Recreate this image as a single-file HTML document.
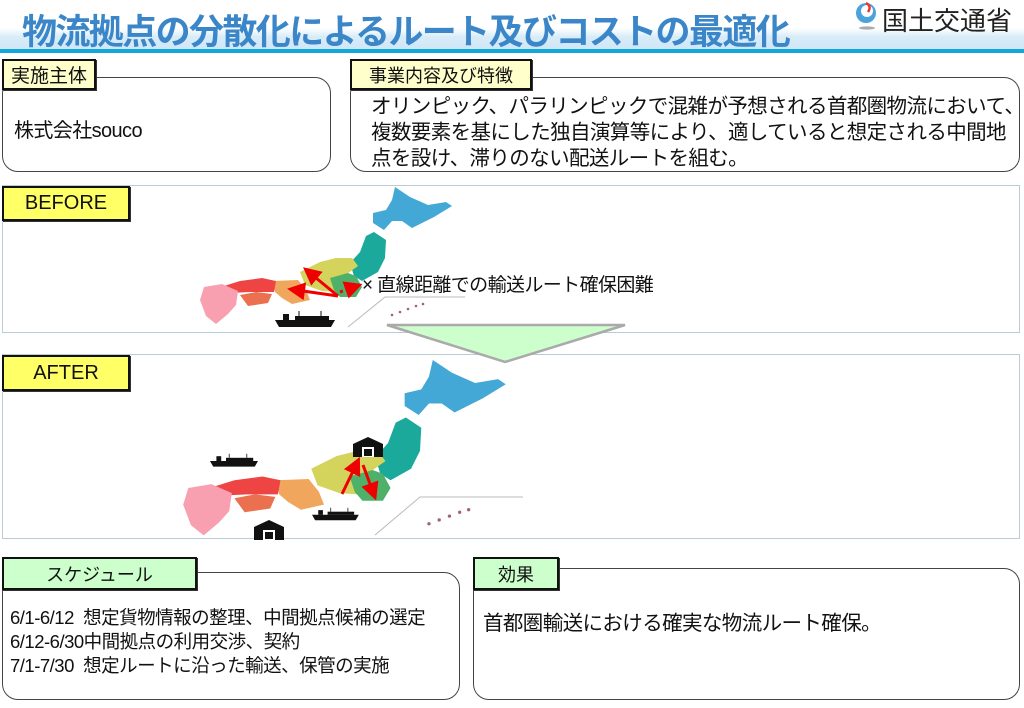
<!DOCTYPE html>
<html><head><meta charset="utf-8">
<style>
body{margin:0;width:1024px;height:708px;background:#fff;position:relative;overflow:hidden;font-family:"Liberation Sans","Noto Sans CJK JP",sans-serif;}
.a{position:absolute;box-sizing:border-box;}
.box{border:1.5px solid #444;border-radius:16px;background:#fff;}
.lbl{border:2px solid #111;display:flex;align-items:center;justify-content:center;font-size:18px;color:#111;box-shadow:1px 1px 0 #333;white-space:nowrap}
.y{background:#ffffcc}.yy{background:#ffff66;font-size:20px}.g{background:#ccffcc}
.t{font-size:20px;color:#111;white-space:nowrap;letter-spacing:-0.6px}
.panel{border:1.5px solid #b8cdd5;}
</style></head><body>
<div class="a" style="left:0;top:28px;width:1024px;height:22px;background:linear-gradient(#fff,#d8ecf8 40%,#cfe6f6)"></div>
<div class="a" style="left:0;top:49px;width:1024px;height:4px;background:#12a7da"></div>
<div class="a" style="left:22px;top:4px;font-size:35px;font-weight:bold;color:#3a86c8;white-space:nowrap;letter-spacing:-1.6px;">物流拠点の分散化によるルート及びコストの最適化</div>
<svg class="a" style="left:852px;top:1px" width="32" height="30"><circle cx="14" cy="12" r="10" fill="#4aa3dc"/><circle cx="15" cy="10" r="6" fill="#fff"/><path d="M14 2 q6 3 2 9" stroke="#e33" stroke-width="2.5" fill="none"/><ellipse cx="15" cy="27" rx="8" ry="1.6" fill="#aaa"/></svg>
<div class="a" style="left:882px;top:1px;font-size:26px;color:#222;white-space:nowrap">国土交通省</div>

<div class="a box" style="left:2px;top:77px;width:329px;height:95px"></div>
<div class="a lbl y" style="left:2px;top:59px;width:94px;height:31px;font-size:19px">実施主体</div>
<div class="a t" style="left:14px;top:114px;font-size:20px">株式会社souco</div>

<div class="a box" style="left:350px;top:77px;width:670px;height:95px"></div>
<div class="a lbl y" style="left:350px;top:59px;width:182px;height:31px">事業内容及び特徴</div>
<div class="a t" style="left:371px;top:94px;line-height:26px;font-size:20.5px">オリンピック、パラリンピックで混雑が予想される首都圏物流において、<br>複数要素を基にした独自演算等により、適していると想定される中間地<br>点を設け、滞りのない配送ルートを組む。</div>

<div class="a panel" style="left:2px;top:185px;width:1018px;height:148px"></div>
<div class="a panel" style="left:2px;top:354px;width:1018px;height:185px"></div>

<svg class="a" style="left:0;top:0" width="1024" height="708">
<defs>
<g id="jp">
<polygon fill="#44a8d6" points="395,187 410,197 428,205 446,202 452,206 434,217 412,228 402,221 392,221 384,230 373,223 373,213 386,210 392,200"/>
<polygon fill="#1aa99a" points="374,232 386,240 385,258 378,272 362,281 354,276 350,263 360,252 366,236"/>
<polygon fill="#d4d45c" points="300,272 320,262 336,258 352,258 358,266 344,276 336,292 322,291 305,285"/>
<polygon fill="#4fb06a" points="330,278 348,273 356,276 362,287 356,297 340,297 334,290"/>
<polygon fill="#f0a65c" points="273,281 298,280 306,290 310,300 292,304 282,298 275,292"/>
<polygon fill="#ee4444" points="224,286 240,281 262,278 276,281 274,292 250,292 230,293"/>
<polygon fill="#ea7050" points="240,295 256,292 272,294 268,303 248,306"/>
<polygon fill="#f8a0b0" points="204,287 222,284 238,291 236,305 228,314 216,324 206,316 200,300"/>
<g fill="#a06080"><circle cx="392" cy="315" r="1.3"/><circle cx="400" cy="312" r="1.3"/><circle cx="408" cy="309" r="1.3"/><circle cx="416" cy="306" r="1.3"/><circle cx="423" cy="304" r="1.3"/></g>
</g>
<g id="ship"><path d="M0 10 L60 10 L56 17 L4 17 Z" fill="#111"/><rect x="8" y="4" width="6" height="6" fill="#111"/><rect x="20" y="6" width="34" height="4" fill="#111"/><line x1="24" y1="1" x2="24" y2="6" stroke="#111"/><line x1="46" y1="1" x2="46" y2="6" stroke="#111"/></g>
<g id="wh"><path d="M0 20 L0 7 L15 0 L30 7 L30 20 Z" fill="#111"/><rect x="9" y="10" width="12" height="10" fill="#fff"/><rect x="11" y="12" width="8" height="7" fill="#111"/></g>
<marker id="ar" markerWidth="6" markerHeight="6" refX="3" refY="3" orient="auto" markerUnits="strokeWidth"><path d="M0,0 L6,3 L0,6 z" fill="#e00"/></marker>
</defs>
<use href="#jp"/>
<use href="#ship" x="275" y="310"/>
<polyline points="348,327 385,297 465,297" fill="none" stroke="#bbb" stroke-width="1"/>
<line x1="338" y1="296" x2="310" y2="273" stroke="#e00" stroke-width="3" marker-end="url(#ar)"/>
<line x1="338" y1="296" x2="296" y2="290" stroke="#e00" stroke-width="3" marker-end="url(#ar)"/>
<line x1="340" y1="292" x2="354" y2="287" stroke="#e00" stroke-width="3" stroke-dasharray="3,3" marker-end="url(#ar)"/>
<polygon points="387,325 625,325 505,362" fill="#ccffcc" stroke="#aaa" stroke-width="2.5"/>
<g transform="translate(-72.8,120.6) scale(1.28)"><use href="#jp"/></g>
<use href="#ship" transform="translate(210,453) scale(0.8)"/>
<use href="#ship" transform="translate(312,507) scale(0.78)"/>
<polyline points="375,535 420,497 523,497" fill="none" stroke="#bbb" stroke-width="1"/>
<use href="#wh" x="353" y="437"/>
<use href="#wh" x="254" y="520"/>
<line x1="342" y1="494" x2="356" y2="465" stroke="#e00" stroke-width="3" marker-end="url(#ar)"/>
<line x1="363" y1="465" x2="373" y2="492" stroke="#e00" stroke-width="3" marker-end="url(#ar)"/>
</svg>
<div class="a lbl yy" style="left:2px;top:186px;width:128px;height:35px">BEFORE</div>
<div class="a lbl yy" style="left:2px;top:355px;width:128px;height:36px">AFTER</div>
<div class="a t" style="left:362px;top:270px;font-size:19px">× 直線距離での輸送ルート確保困難</div>

<div class="a box" style="left:2px;top:572px;width:458px;height:128px"></div>
<div class="a lbl g" style="left:2px;top:557px;width:195px;height:33px">スケジュール</div>
<div class="a t" style="left:10px;top:606px;font-size:18.5px;line-height:24px;letter-spacing:-0.5px">6/1-6/12&nbsp; 想定貨物情報の整理、中間拠点候補の選定<br>6/12-6/30中間拠点の利用交渉、契約<br>7/1-7/30&nbsp; 想定ルートに沿った輸送、保管の実施</div>

<div class="a box" style="left:473px;top:568px;width:547px;height:132px"></div>
<div class="a lbl g" style="left:473px;top:557px;width:86px;height:33px">効果</div>
<div class="a t" style="left:483px;top:606px;font-size:20.5px">首都圏輸送における確実な物流ルート確保。</div>
</body></html>
